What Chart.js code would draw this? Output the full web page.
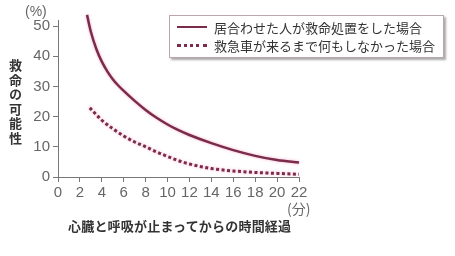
<!DOCTYPE html>
<html>
<head>
<meta charset="utf-8">
<script src="https://cdn.jsdelivr.net/npm/chart.js@4"></script>
<style>
  body { margin: 0; background: #fff; }
  #wrap { position: relative; width: 455px; height: 256px; font-family: "Noto Sans CJK JP", sans-serif; }
  .lbl { position: absolute; white-space: nowrap; line-height: 1; }
  #unitY { left: 25px; top: 3px; font: 14px "Liberation Sans", sans-serif; color: #666; }
  #unitX { left: 287px; top: 198px; font: 14px "Noto Sans CJK JP", sans-serif; color: #666; }
  #titleY { left: 9px; top: 59px; writing-mode: vertical-rl; font-size: 13px; font-weight: bold; color: #333; letter-spacing: 1.5px; }
  #titleX { left: 68px; top: 219px; font-size: 13px; font-weight: bold; color: #333; letter-spacing: 0.2px; }
  #legend { position: absolute; left: 169px; top: 15px; width: 273px; height: 41px; border: 1px solid #b9a6ae;
            box-shadow: 2px 2px 2px #aaa; background: #fff; }
  .row { position: absolute; left: 7px; height: 14px; display: flex; align-items: center; font-size: 13px; color: #333; }
  .swatch { width: 30px; margin-right: 7px; }
</style>
</head>
<body>
<div id="wrap">
  <canvas id="chart"></canvas>
  <div class="lbl" id="unitY">(%)</div>
  <div class="lbl" id="titleY">救命の可能性</div>
  <div class="lbl" id="unitX">(分)</div>
  <div class="lbl" id="titleX">心臓と呼吸が止まってからの時間経過</div>
  <div id="legend"></div>
</div>
<script>
const seriesNames = ['居合わせた人が救命処置をした場合', '救急車が来るまで何もしなかった場合'];

const rescueMinutes = [2.65, 3, 3.5, 4, 4.5, 5, 5.5, 6, 7, 8, 9, 10, 11, 12, 14, 16, 18, 20, 22];
const rescueRates   = [53.7, 48.1, 42.4, 38.2, 35, 32.4, 30.3, 28.5, 25.2, 22.2, 19.6, 17.4, 15.5, 13.9, 11.2, 8.9, 7, 5.6, 4.8];

const noActionMinutes = [2.9, 4, 5, 6, 7, 8, 9, 10, 11, 12, 14, 16, 18, 20, 22];
const noActionRates   = [22.9, 18.8, 16, 13.6, 11.6, 10, 8.3, 6.8, 5.4, 4.3, 2.8, 2, 1.5, 1.2, 0.9];

const xTicks = [0, 2, 4, 6, 8, 10, 12, 14, 16, 18, 20, 22];
const yTicks = [0, 10, 20, 30, 40, 50];

const lineColor = '#7b2b4b';

function toPoints(xs, ys) {
    return xs.map((x, i) => ({ x: x, y: ys[i] }));
}

// soft pink glow around the curves
const glow = {
    id: 'glow',
    beforeDatasetsDraw(chart) {
        chart.ctx.save();
        chart.ctx.shadowColor = 'rgba(235, 120, 160, 0.6)';
        chart.ctx.shadowBlur = 3;
    },
    afterDatasetsDraw(chart) {
        chart.ctx.restore();
    }
};

const tickFont = { family: 'Liberation Sans', size: 15 };

const ctx = document.getElementById('chart').getContext('2d');
const myChart = new Chart(ctx, {
    type: 'line',
    data: {
        datasets: [{
            label: seriesNames[0],
            data: toPoints(rescueMinutes, rescueRates),
            borderColor: lineColor,
            borderWidth: 2.5,
            pointRadius: 0,
            cubicInterpolationMode: 'monotone',
            clip: false
        }, {
            label: seriesNames[1],
            data: toPoints(noActionMinutes, noActionRates),
            borderColor: lineColor,
            borderWidth: 3,
            borderDash: [3, 2.5],
            pointRadius: 0,
            cubicInterpolationMode: 'monotone',
            clip: false
        }]
    },
    options: {
        responsive: true,
        maintainAspectRatio: false,
        animation: false,
        layout: { padding: { top: 20, right: 156, left: 0, bottom: 0 } },
        plugins: { legend: { display: false }, tooltip: { enabled: false } },
        scales: {
            x: {
                type: 'linear',
                min: 0,
                max: 22,
                afterBuildTicks: s => { s.ticks = xTicks.map(v => ({ value: v })); },
                afterFit: s => { s.height = 79; },
                grid: { drawOnChartArea: false, tickLength: 5, color: '#777' },
                border: { color: '#777' },
                ticks: { color: '#666', font: tickFont, padding: 2, maxRotation: 0, autoSkip: false }
            },
            y: {
                min: 0,
                max: 52,
                afterBuildTicks: s => { s.ticks = yTicks.map(v => ({ value: v })); },
                afterFit: s => { s.width = 58; },
                grid: { drawOnChartArea: false, tickLength: 5, color: '#777' },
                border: { color: '#777' },
                ticks: { color: '#666', font: tickFont, padding: 3 }
            }
        }
    },
    plugins: [glow]
});

// legend box inside the plot, built from the dataset labels
const legend = document.getElementById('legend');
myChart.data.datasets.forEach((d, i) => {
    const row = document.createElement('div');
    row.className = 'row';
    row.style.top = (4 + i * 18) + 'px';
    const sw = document.createElement('span');
    sw.className = 'swatch';
    sw.style.borderTop = (i === 0 ? '2.5px solid ' : '3px dotted ') + d.borderColor;
    row.appendChild(sw);
    row.appendChild(document.createTextNode(d.label));
    legend.appendChild(row);
});
</script>
</body>
</html>
